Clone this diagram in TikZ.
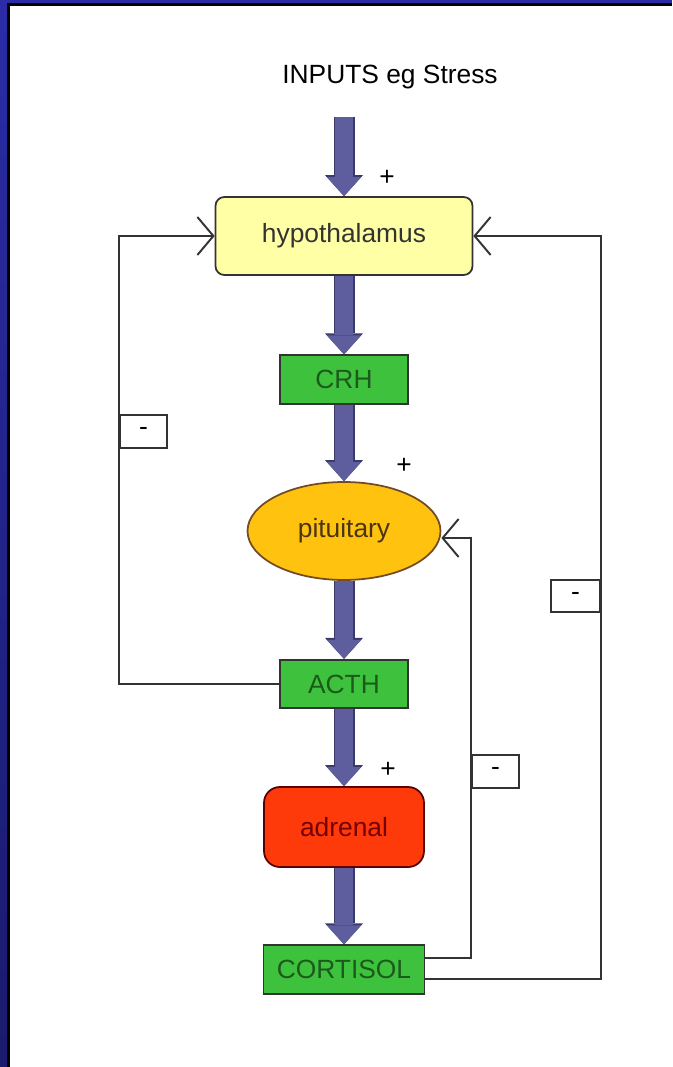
\documentclass[tikz,border=0pt]{standalone}
\usepackage{fontspec}
\setmainfont{Liberation Sans}
\usepackage{xcolor}
\usetikzlibrary{arrows.meta, shapes.geometric}

\definecolor{framenavy}{HTML}{1A1A6E}
\definecolor{frameblue}{HTML}{2B2BA6}
\definecolor{pumpfill}{HTML}{5E5E9E}
\definecolor{pumpedge}{HTML}{3A3A6A}
\definecolor{hypfill}{HTML}{FFFFA6}
\definecolor{boxgreen}{HTML}{3EC23E}
\definecolor{textgreen}{HTML}{1B5A1B}
\definecolor{pitfill}{HTML}{FFC20E}
\definecolor{pittext}{HTML}{4A3510}
\definecolor{adrfill}{HTML}{FF3A0A}
\definecolor{wire}{HTML}{333333}

\tikzset{
  every node/.style={font=\fontsize{15pt}{18pt}\selectfont},
  organ/.style={draw=wire, line width=1pt, inner sep=0pt},
  hormone/.style={organ, fill=boxgreen, text=textgreen, minimum width=2.56cm, minimum height=0.97cm},
  minusbox/.style={draw=wire, line width=1.1pt, inner sep=0pt, minimum width=0.94cm, minimum height=0.66cm},
  pump/.style={draw=pumpfill, line width=0.36cm,
    -{Triangle[length=0.38cm, width=0.68cm, line width=0pt]},
    preaction={draw=pumpedge, line width=0.42cm,
      -{Triangle[length=0.42cm, width=0.76cm, line width=0pt]}}},
  feedback/.style={draw=wire, line width=1.1pt,
    -{Straight Barb[length=0.32cm, width=0.76cm, line width=1.1pt]}}
}

\begin{document}
\begin{tikzpicture}[x=0.02cm, y=-0.02cm]
    % page and frame
    \useasboundingbox (0,0) rectangle (672,1067);
    \fill[white] (0,0) rectangle (672,1067);
    \shade[top color=frameblue, bottom color=framenavy] (0,0) rectangle (7,1067);
    \fill[frameblue] (0,0) rectangle (672,3.5);
    \fill[black] (7,3.5) rectangle (9.5,1067);
    \fill[black] (7,3.5) rectangle (672,6.5);

    % organs and hormones, top to bottom
    \node at (390,77) (inputs) {INPUTS eg Stress};
    \coordinate (in) at (344,117);
    \node[organ, fill=hypfill, text=black!80, rounded corners=5pt,
          minimum width=5.14cm, minimum height=1.56cm] at (344,236) (hyp) {hypothalamus};
    \node[hormone] at (344,379.5) (crh) {CRH};
    \node[organ, ellipse, fill=pitfill, text=pittext, draw=brown!60!black,
          minimum width=3.86cm, minimum height=1.96cm] at (344,531) (pit) {pituitary};
    \node[hormone] at (344,684) (acth) {ACTH};
    \node[organ, fill=adrfill, text=red!45!black, draw=red!35!black, rounded corners=9pt,
          minimum width=3.2cm, minimum height=1.6cm] at (344,827) (adr) {adrenal};
    \node[hormone, minimum width=3.22cm] at (344,969.5) (cort) {CORTISOL};

    % main cascade
    \draw[pump] (in) -- (hyp.north);
    \draw[pump] (hyp.south) -- (crh.north);
    \draw[pump] (crh.south) -- (pit.north);
    \draw[pump] (pit.south) -- (acth.north);
    \draw[pump] (acth.south) -- (adr.north);
    \draw[pump] (adr.south) -- (cort.north);

    % plus signs
    \node at (387,178) (plushyp) {+};
    \node at (404,466) (pluspit) {+};
    \node at (388,770) (plusadr) {+};

    % negative feedback labels
    \node[minusbox] at (143.5,431.5) (minusL) {-};
    \node[minusbox] at (495.5,771.5) (minusA) {-};
    \node[minusbox, minimum width=0.98cm, minimum height=0.64cm] at (575.5,596) (minusB) {-};

    % negative feedback loops
    \draw[feedback] (acth.west) -| (minusL.west) |- (hyp.west);
    \draw[feedback] ([yshift=0.23cm]cort.east) -| (minusA.west) |- ([yshift=-0.14cm]pit.east);
    \draw[feedback] ([yshift=-0.19cm]cort.east) -| (minusB.east) |- (hyp.east);
\end{tikzpicture}
\end{document}
